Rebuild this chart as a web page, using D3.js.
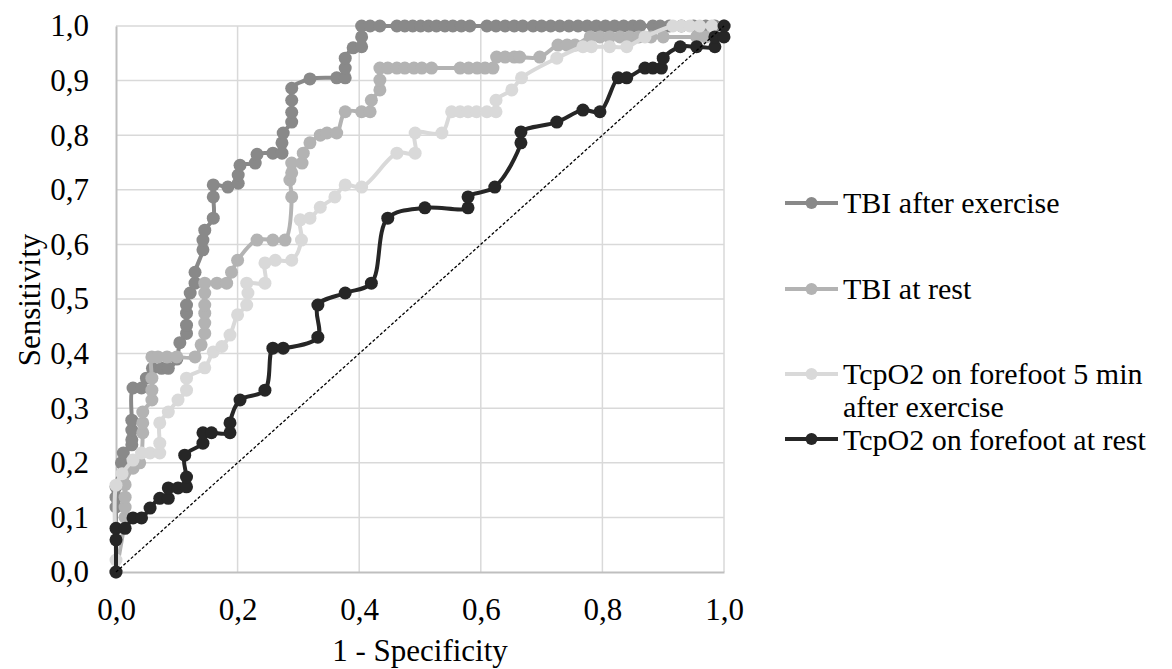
<!DOCTYPE html>
<html><head><meta charset="utf-8">
<script src="https://cdn.jsdelivr.net/npm/d3@7"></script>
<style>body{margin:0;background:#fff}svg{display:block}text{font-family:"Liberation Serif","Times New Roman",serif;fill:#000}</style>
</head><body>
<svg id="chart" width="1172" height="669"></svg>
<script>
// ---- data ----
const seriesNames = ["TBI after exercise", "TBI at rest", "TcpO2 on forefoot 5 min after exercise", "TcpO2 on forefoot at rest"];
const seriesColors = ["#898989", "#b3b3b3", "#d9d9d9", "#262626"];
const xTicks = [0, 0.2, 0.4, 0.6, 0.8, 1.0];
const yTicks = [0, 0.1, 0.2, 0.3, 0.4, 0.5, 0.6, 0.7, 0.8, 0.9, 1.0];

const tbiExFpr = [0,0,0,0,0.009,0.012,0.026,0.026,0.026,0.026,0.028,0.042,0.05,0.06,0.075,0.086,0.1,0.105,0.116,0.116,0.116,0.116,0.122,0.13,0.13,0.143,0.143,0.146,0.16,0.16,0.16,0.184,0.201,0.201,0.204,0.229,0.232,0.258,0.273,0.273,0.275,0.289,0.289,0.289,0.289,0.319,0.363,0.377,0.377,0.377,0.39,0.404,0.404,0.404,0.418,0.434,0.462,0.475,0.488,0.501,0.514,0.527,0.541,0.554,0.568,0.582,0.61,0.625,0.64,0.655,0.669,0.686,0.70,0.715,0.73,0.745,0.76,0.775,0.79,0.805,0.82,0.835,0.85,0.862,0.883,0.895,0.91,0.93,0.95,0.97,0.985,1.0];
const tbiExTpr = [0,0.119,0.137,0.156,0.2,0.218,0.233,0.242,0.26,0.278,0.337,0.337,0.355,0.373,0.373,0.373,0.39,0.42,0.437,0.452,0.474,0.489,0.511,0.529,0.549,0.59,0.608,0.626,0.648,0.687,0.709,0.705,0.712,0.727,0.745,0.749,0.765,0.767,0.767,0.786,0.804,0.824,0.842,0.864,0.886,0.903,0.905,0.905,0.923,0.941,0.96,0.962,0.98,1.0,1,1,1,1,1,1,1,1,1,1,1,1,1,1,1,1,1,1,1,1,1,1,1,1,1,1,1,1,1,1,1,1,1,1,1,1,1,1];

const tbiRestFpr = [0,0.015,0.015,0.015,0.015,0.028,0.039,0.044,0.044,0.044,0.059,0.059,0.059,0.059,0.069,0.084,0.1,0.13,0.14,0.146,0.146,0.146,0.146,0.146,0.146,0.166,0.182,0.19,0.2,0.232,0.258,0.278,0.289,0.286,0.289,0.289,0.306,0.308,0.319,0.336,0.347,0.363,0.377,0.404,0.418,0.42,0.434,0.434,0.434,0.447,0.462,0.475,0.49,0.503,0.519,0.566,0.58,0.594,0.607,0.62,0.626,0.64,0.655,0.664,0.697,0.727,0.742,0.755,0.78,0.796,0.812,0.829,0.845,0.86,0.88,0.9,0.955,0.97,0.985,1.0];
const tbiRestTpr = [0,0.10,0.119,0.137,0.16,0.19,0.2,0.255,0.273,0.293,0.315,0.333,0.355,0.394,0.394,0.394,0.394,0.394,0.416,0.437,0.456,0.474,0.489,0.511,0.529,0.529,0.529,0.549,0.571,0.608,0.608,0.608,0.687,0.718,0.731,0.749,0.749,0.767,0.786,0.80,0.804,0.804,0.843,0.843,0.843,0.864,0.883,0.901,0.923,0.923,0.923,0.923,0.923,0.923,0.923,0.923,0.923,0.923,0.923,0.923,0.943,0.943,0.943,0.943,0.943,0.965,0.965,0.965,0.98,0.98,0.98,0.98,0.98,0.98,0.98,0.98,0.98,0.98,0.98,1.0];

const tcpExFpr = [0,0,0,0.01,0.028,0.042,0.056,0.072,0.072,0.072,0.086,0.102,0.116,0.116,0.146,0.16,0.174,0.1875,0.2,0.215,0.217,0.215,0.245,0.245,0.262,0.289,0.305,0.303,0.319,0.336,0.36,0.377,0.404,0.462,0.492,0.492,0.536,0.552,0.566,0.579,0.593,0.61,0.625,0.625,0.651,0.667,0.725,0.768,0.782,0.812,0.84,0.87,0.916,0.93,0.944,0.96,0.98,1.0];
const tcpExTpr = [0,0.022,0.159,0.18,0.205,0.218,0.218,0.218,0.236,0.273,0.293,0.315,0.333,0.355,0.374,0.403,0.413,0.434,0.471,0.489,0.511,0.529,0.529,0.566,0.571,0.571,0.608,0.645,0.648,0.668,0.687,0.709,0.705,0.767,0.767,0.804,0.804,0.843,0.843,0.843,0.843,0.843,0.843,0.864,0.883,0.905,0.941,0.962,0.962,0.962,0.962,0.98,1,1,1,1,1,1];

const tcpRestFpr = [0,0,0,0.015,0.028,0.042,0.056,0.072,0.086,0.086,0.102,0.116,0.116,0.113,0.143,0.143,0.157,0.1875,0.1875,0.204,0.245,0.258,0.275,0.332,0.332,0.377,0.42,0.447,0.508,0.579,0.579,0.623,0.666,0.666,0.725,0.768,0.796,0.826,0.84,0.87,0.883,0.897,0.9,0.928,0.955,0.985,0.985,1.0,1.0];
const tcpRestTpr = [0,0.059,0.08,0.08,0.099,0.099,0.117,0.135,0.135,0.154,0.154,0.156,0.174,0.214,0.236,0.255,0.255,0.255,0.273,0.315,0.333,0.41,0.41,0.43,0.489,0.511,0.529,0.648,0.667,0.667,0.687,0.705,0.786,0.806,0.824,0.846,0.843,0.905,0.905,0.923,0.923,0.923,0.941,0.962,0.962,0.962,0.98,0.98,1.0];

const fprSets = [tbiExFpr, tbiRestFpr, tcpExFpr, tcpRestFpr];
const tprSets = [tbiExTpr, tbiRestTpr, tcpExTpr, tcpRestTpr];

// ---- drawing ----
const svg = d3.select("#chart");
const x = d3.scaleLinear().domain([0, 1]).range([116, 724]);
const y = d3.scaleLinear().domain([0, 1]).range([572, 26]);
const fmt = d => d3.format(".1f")(d).replace(".", ",");

// gridlines
const grid = svg.append("g");
grid.selectAll("line.h").data(yTicks.slice(1)).enter().append("line")
  .attr("x1", x(0)).attr("x2", x(1)).attr("y1", d => y(d)).attr("y2", d => y(d))
  .attr("stroke", "#d9d9d9").attr("stroke-width", 1.5);
grid.selectAll("line.v").data(xTicks.slice(1)).enter().append("line")
  .attr("y1", y(0)).attr("y2", y(1)).attr("x1", d => x(d)).attr("x2", d => x(d))
  .attr("stroke", "#d9d9d9").attr("stroke-width", 1.5);

// axes
const xAxis = svg.append("g").attr("transform", `translate(0,${y(0)})`)
  .call(d3.axisBottom(x).tickValues(xTicks).tickFormat(fmt).tickSize(0).tickPadding(26));
const yAxis = svg.append("g").attr("transform", `translate(${x(0)},0)`)
  .call(d3.axisLeft(y).tickValues(yTicks).tickFormat(fmt).tickSize(0).tickPadding(27));
[xAxis, yAxis].forEach(a => {
  a.select(".domain").attr("stroke", "#bfbfbf").attr("stroke-width", 2);
  a.selectAll("text").style("font-size", "31px").attr("font-family", "Liberation Serif");
});

// series
const line = d3.line().x(d => x(d[0])).y(d => y(d[1])).curve(d3.curveCatmullRom.alpha(0.5));
seriesNames.forEach((name, i) => {
  const pts = fprSets[i].map((v, k) => [v, tprSets[i][k]]);
  const g = svg.append("g");
  g.append("path").datum(pts).attr("d", line).attr("fill", "none")
    .attr("stroke", seriesColors[i]).attr("stroke-width", 4).attr("stroke-linejoin", "round");
  g.selectAll("circle").data(pts).enter().append("circle")
    .attr("cx", d => x(d[0])).attr("cy", d => y(d[1])).attr("r", 6.5)
    .attr("fill", seriesColors[i]);
});

// diagonal reference
svg.append("line").attr("x1", x(0)).attr("y1", y(0)).attr("x2", x(1)).attr("y2", y(1))
  .attr("stroke", "#000").attr("stroke-width", 1.3).attr("stroke-dasharray", "3,2");

// axis titles
svg.append("text").attr("x", x(0.5)).attr("y", 661).attr("text-anchor", "middle")
  .style("font-size", "31px").text("1 - Specificity");
svg.append("text").attr("transform", "translate(40,300) rotate(-90)").attr("text-anchor", "middle")
  .style("font-size", "31px").text("Sensitivity");

// legend
const legendRows = [
  {lineY: 203, lines: ["TBI after exercise"], base: 213},
  {lineY: 289, lines: ["TBI at rest"], base: 299},
  {lineY: 374, lines: ["TcpO2 on forefoot 5 min", "after exercise"], base: 384},
  {lineY: 439, lines: ["TcpO2 on forefoot at rest"], base: 450}
];
const lg = svg.append("g");
legendRows.forEach((r, i) => {
  lg.append("line").attr("x1", 785).attr("x2", 838).attr("y1", r.lineY).attr("y2", r.lineY)
    .attr("stroke", seriesColors[i]).attr("stroke-width", 4);
  lg.append("circle").attr("cx", 811.5).attr("cy", r.lineY).attr("r", 6).attr("fill", seriesColors[i]);
  r.lines.forEach((s, k) => lg.append("text").attr("x", 843).attr("y", r.base + k * 33)
    .style("font-size", "30px").text(s));
});
</script>
</body></html>
